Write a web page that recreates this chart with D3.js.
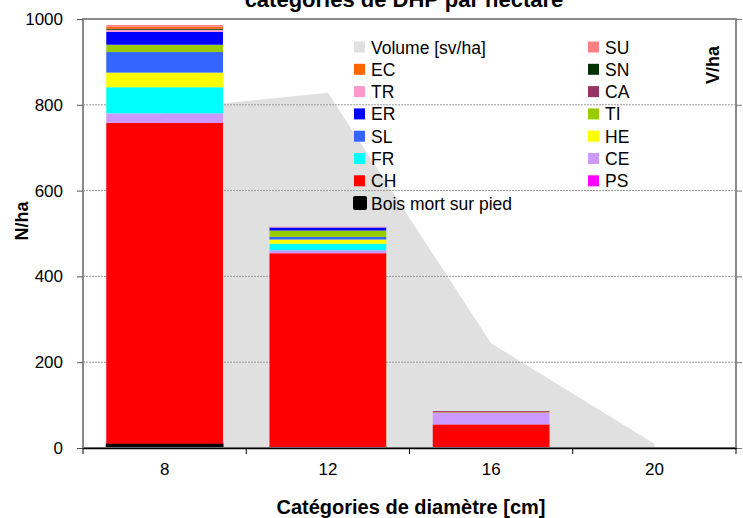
<!DOCTYPE html>
<html>
<head>
<meta charset="utf-8">
<script src="https://cdn.jsdelivr.net/npm/d3@7"></script>
<style>
  body { margin: 0; background: #fff; }
  svg text { font-family: "Liberation Sans", Arial, sans-serif; }
</style>
</head>
<body>
<svg></svg>
<script>
//Données : catégories de diamètre
const categories = ['8', '12', '16', '20'];

//Nombre de tiges par hectare, par essence
const boisMort = [10, 2, 0, 0];
const PS = [0, 0, 0, 0];
const CH = [748, 452, 55, 0];
const CE = [22, 7, 27, 1];
const FR = [61, 15, 0, 0];
const HE = [34, 10, 1, 0];
const SL = [48, 6, 0, 0];
const TI = [17, 15, 0, 0];
const ER = [30, 7, 0, 0];
const CA = [0, 0, 3, 0];
const TR = [5, 2, 0, 0];
const SN = [2, 0, 0, 0];
const EC = [5, 0, 0, 0];
const SU = [4, 0, 0, 0];

//Volume en sv/ha (axe de droite)
const volume = [395, 414, 122, 5];

//Graduations
const ticksN = [0, 200, 400, 600, 800, 1000];

//Ordre d'empilement (du bas vers le haut) et couleurs
const essences = ['Bois mort sur pied', 'PS', 'CH', 'CE', 'FR', 'HE', 'SL', 'TI', 'ER', 'CA', 'TR', 'SN', 'EC', 'SU'];
const valeurs = [boisMort, PS, CH, CE, FR, HE, SL, TI, ER, CA, TR, SN, EC, SU];
const couleurs = ['#000000', '#ff00ff', '#ff0000', '#cc99ff', '#00ffff', '#ffff00', '#3366ff', '#99cc00', '#0000ff', '#993366', '#ff99cc', '#003300', '#ff6600', '#ff8080'];

//Légende (deux colonnes)
const legende1 = ['Volume [sv/ha]', 'EC', 'TR', 'ER', 'SL', 'FR', 'CH', 'Bois mort sur pied'];
const legende2 = ['SU', 'SN', 'CA', 'TI', 'HE', 'CE', 'PS'];
const couleurVolume = '#e0e0e0';

var WIDTH = 743;
var HEIGHT = 518;
var margin = {left: 83, right: 7, top: 19, bottom: 70};
var innerW = WIDTH - margin.left - margin.right;
var innerH = HEIGHT - margin.top - margin.bottom;

const svg = d3.select('svg')
    .attr('width', WIDTH)
    .attr('height', HEIGHT);

const g = svg.append('g')
    .attr('transform', 'translate(' + margin.left + ',' + margin.top + ')');

//Tableau pour d3.stack
const table = categories.map((c, i) => {
    const row = {cat: c};
    essences.forEach((e, k) => row[e] = valeurs[k][i]);
    return row;
});
const couleur = d3.scaleOrdinal().domain(essences).range(couleurs);
const couleurLeg = k => k === 'Volume [sv/ha]' ? couleurVolume : couleur(k);

//Echelles
const x = d3.scaleBand().domain(categories).range([0, innerW]).padding(0);
const y = d3.scaleLinear().domain([0, 1000]).range([innerH, 0]);
const yVol = d3.scaleLinear().domain([0, 500]).range([innerH, 0]);

//Surface du volume
const aire = d3.area()
    .x((d, i) => x(categories[i]) + x.bandwidth() / 2)
    .y0(innerH)
    .y1(d => yVol(d));
g.append('path')
    .datum(volume)
    .attr('d', aire)
    .attr('fill', couleurVolume);

//Lignes de grille
g.append('g')
    .selectAll('line')
    .data(ticksN.filter(t => t > 0 && t < 1000))
    .enter()
    .append('line')
    .attr('x1', 0).attr('x2', innerW)
    .attr('y1', d => y(d)).attr('y2', d => y(d))
    .attr('stroke', '#9a9a9a')
    .attr('stroke-width', 1)
    .attr('stroke-dasharray', '2,1');

//Barres empilées
const series = d3.stack().keys(essences)(table);
const barW = x.bandwidth() * 0.715;
g.append('g')
    .selectAll('g')
    .data(series)
    .enter()
    .append('g')
    .attr('fill', d => couleur(d.key))
    .selectAll('rect')
    .data(d => d.map(v => ({key: d.key, v: v})))
    .enter()
    .append('rect')
    .filter(d => d.v[1] - d.v[0] > 0)
    .attr('x', d => x(d.v.data.cat) + (x.bandwidth() - barW) / 2)
    .attr('width', barW)
    .attr('y', d => y(d.v[1]))
    .attr('height', d => y(d.v[0]) - y(d.v[1]))
    .attr('stroke', d => d.key === 'Bois mort sur pied' ? '#000' : 'none')
    .attr('stroke-width', 1);

//Cadre de la zone du graphique
g.append('rect')
    .attr('x', 0).attr('y', 0)
    .attr('width', innerW).attr('height', innerH)
    .attr('fill', 'none')
    .attr('stroke', '#8a8a8a')
    .attr('stroke-width', 2);

//Axe gauche
const axeY = g.append('g')
    .call(d3.axisLeft(y).tickValues(ticksN).tickSize(6).tickPadding(14).tickFormat(d3.format('d')));
axeY.select('.domain').remove();
axeY.selectAll('line').attr('stroke', '#555');
axeY.selectAll('text').style('font-size', '17px').attr('fill', '#000');

//Axe droit (sans étiquettes)
const axeV = g.append('g')
    .attr('transform', 'translate(' + innerW + ',0)')
    .call(d3.axisRight(y).tickValues(ticksN).tickSize(6).tickFormat(''));
axeV.select('.domain').remove();
axeV.selectAll('line').attr('stroke', '#777');

//Axe du bas
const axeX = g.append('g')
    .attr('transform', 'translate(0,' + innerH + ')')
    .call(d3.axisBottom(x).tickSize(0).tickPadding(15));
axeX.select('.domain').attr('stroke', '#000').attr('stroke-width', 1.5);
axeX.selectAll('text').style('font-size', '17px').attr('fill', '#000');
//Graduations entre les catégories
axeX.selectAll('.sep')
    .data(d3.range(categories.length + 1))
    .enter()
    .append('line')
    .attr('x1', i => i * x.step()).attr('x2', i => i * x.step())
    .attr('y1', 0).attr('y2', 6)
    .attr('stroke', '#000');

//Titres
svg.append('text')
    .attr('x', 404).attr('y', 7)
    .attr('text-anchor', 'middle')
    .style('font-size', '22px').style('font-weight', 'bold')
    .text('catégories de DHP par hectare');
svg.append('text')
    .attr('x', 411).attr('y', 514)
    .attr('text-anchor', 'middle')
    .style('font-size', '20px').style('font-weight', 'bold')
    .text('Catégories de diamètre [cm]');
svg.append('text')
    .attr('transform', 'translate(28,221) rotate(-90)')
    .attr('text-anchor', 'middle')
    .style('font-size', '18px').style('font-weight', 'bold')
    .text('N/ha');
svg.append('text')
    .attr('transform', 'translate(719,65) rotate(-90)')
    .attr('text-anchor', 'middle')
    .style('font-size', '18px').style('font-weight', 'bold')
    .text('V/ha');

//Légende
function legende(items, x0, y0) {
    const lg = svg.append('g');
    const it = lg.selectAll('g')
        .data(items)
        .enter()
        .append('g')
        .attr('transform', (d, i) => 'translate(' + x0 + ',' + (y0 + i * 22.3) + ')');
    it.append('rect')
        .attr('x', d => d === 'Bois mort sur pied' ? -1 : 0)
        .attr('y', d => d === 'Bois mort sur pied' ? -7 : -5.5)
        .attr('width', d => d === 'Bois mort sur pied' ? 14 : 11)
        .attr('height', d => d === 'Bois mort sur pied' ? 14 : 11)
        .attr('rx', d => d === 'Bois mort sur pied' ? 2 : 0)
        .attr('fill', d => couleurLeg(d));
    it.append('text')
        .attr('x', 17)
        .attr('y', 6.5)
        .style('font-size', '17.5px')
        .text(d => d);
}
legende(legende1, 354, 47);
legende(legende2, 588, 47);
</script>
</body>
</html>
